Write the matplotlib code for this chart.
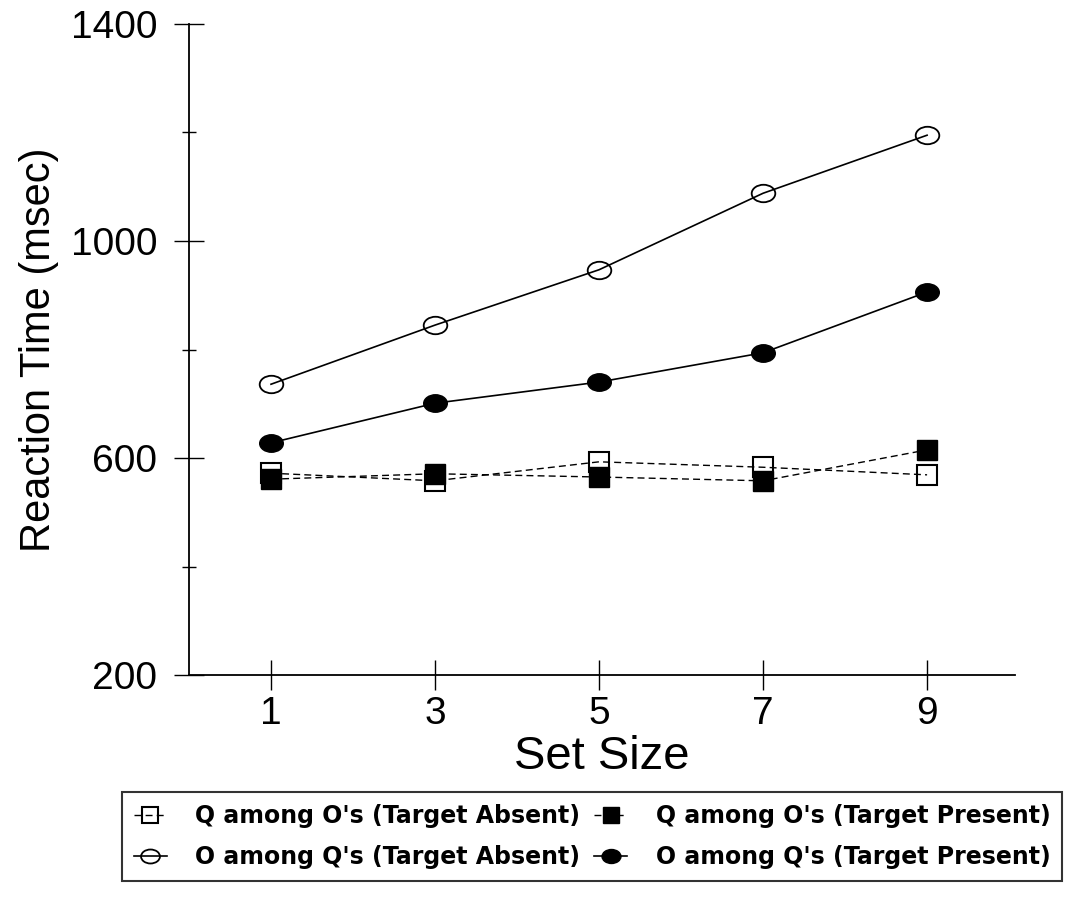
import matplotlib
matplotlib.use('Agg')
import matplotlib.pyplot as plt
from matplotlib.path import Path
import numpy as np

plt.rcParams['font.family'] = ['Liberation Sans', 'DejaVu Sans']

set_size = [1, 3, 5, 7, 9]
q_absent = [572, 558, 593, 583, 569]
q_present = [561, 571, 565, 558, 615]
o_absent = [736, 845, 947, 1088, 1195]
o_present = [628, 701, 740, 794, 906]

# flattened circle, the scanned markers are wider than tall
circ = Path.unit_circle()
ellipse = Path(circ.vertices * np.array([1.0, 0.74]), circ.codes)

fig = plt.figure(figsize=(10.66, 9.05), dpi=100)
ax = fig.add_axes([0.1773, 0.2541, 0.7747, 0.7194])

dash = (0, (5, 3))
h1, = ax.plot(set_size, q_absent, ls=dash, lw=1, color='black', marker='s',
              ms=15, mfc='none', mec='black', mew=1.5,
              label="Q among O's (Target Absent)")
h3, = ax.plot(set_size, q_present, ls=dash, lw=1, color='black', marker='s',
              ms=15, mfc='black', mec='black',
              label="Q among O's (Target Present)")
h2, = ax.plot(set_size, o_absent, ls='-', lw=1.2, color='black', marker=ellipse,
              ms=17, mfc='none', mec='black', mew=1.3,
              label="O among Q's (Target Absent)")
h4, = ax.plot(set_size, o_present, ls='-', lw=1.2, color='black', marker=ellipse,
              ms=17, mfc='black', mec='black',
              label="O among Q's (Target Present)")

ax.set_xlim(0, 10.07)
ax.set_ylim(200, 1400)
ax.set_xticks(set_size)
ax.set_yticks([200, 600, 1000, 1400])
ax.set_yticks([400, 800, 1200], minor=True)
ax.tick_params(axis='x', which='major', direction='inout', length=22, width=1,
               labelsize=28, pad=4)
ax.tick_params(axis='y', which='major', direction='inout', length=22, width=1,
               labelsize=28, pad=12)
ax.tick_params(axis='y', which='minor', direction='inout', length=10, width=1)
ax.spines['top'].set_visible(False)
ax.spines['right'].set_visible(False)
ax.spines['left'].set_linewidth(1.3)
ax.spines['bottom'].set_linewidth(1.3)

ax.set_xlabel('Set Size', fontsize=34, labelpad=2)
ax.set_ylabel('Reaction Time (msec)', fontsize=30, labelpad=8)

leg = fig.legend(handles=[h1, h2, h3, h4], ncol=2, loc='upper left',
                 bbox_to_anchor=(0.1144, 0.1249),
                 bbox_transform=fig.transFigure,
                 prop={'family': 'DejaVu Sans', 'size': 17, 'weight': 'bold'},
                 frameon=True, fancybox=False, edgecolor='black',
                 handlelength=1.4, handletextpad=1.2, columnspacing=0.6,
                 borderaxespad=0, borderpad=0.5, labelspacing=0.75,
                 markerscale=0.8)
leg.get_frame().set_linewidth(1.5)

fig.savefig('out.png', dpi=100)
